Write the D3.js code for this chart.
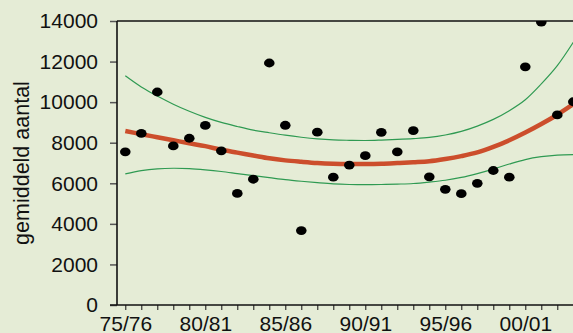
<!DOCTYPE html>
<html>
<head>
<meta charset="utf-8">
<script src="https://cdn.jsdelivr.net/npm/d3@7"></script>
<style>
  html, body { margin: 0; padding: 0; background: #e5ecd6; overflow: hidden; }
  svg { display: block; }
  text { font-family: "Liberation Sans", Arial, sans-serif; fill: #111; }
</style>
</head>
<body>
<svg id="chart" width="573" height="333"></svg>
<script>
// Winter seasons 1975/76 .. 2003/04
const seasons = ["75/76","76/77","77/78","78/79","79/80","80/81","81/82","82/83","83/84","84/85",
  "85/86","86/87","87/88","88/89","89/90","90/91","91/92","92/93","93/94","94/95",
  "95/96","96/97","97/98","98/99","99/00","00/01","01/02","02/03","03/04"];

// Mean count per season
const counts = [7550, 8460, 10500, 7840, 8220, 8850, 7600, 5500, 6200, 11930,
  8860, 3670, 8520, 6300, 6900, 7360, 8510, 7550, 8600, 6320,
  5700, 5490, 6000, 6630, 6300, 11740, 13950, 9370, 10020];

// Smoothed trend and its lower / upper confidence band
const trend = [8580, 8420, 8270, 8120, 7970, 7830, 7650, 7510, 7370, 7230,
  7130, 7060, 7000, 6965, 6950, 6950, 6965, 7000, 7040, 7090,
  7200, 7340, 7520, 7790, 8120, 8500, 8920, 9380, 9900];
const upper = [11300, 10750, 10300, 9900, 9550, 9250, 9000, 8800, 8620, 8490,
  8370, 8270, 8190, 8140, 8120, 8110, 8130, 8160, 8200, 8260,
  8380, 8560, 8820, 9150, 9580, 10120, 10900, 11800, 12950];
const lower = [6460, 6620, 6710, 6740, 6720, 6660, 6580, 6480, 6380, 6280,
  6180, 6100, 6030, 5970, 5940, 5930, 5940, 5960, 5990, 6060,
  6150, 6290, 6480, 6700, 6950, 7170, 7310, 7390, 7410];

const yTicks = [0, 2000, 4000, 6000, 8000, 10000, 12000, 14000];
const xLabels = ["75/76","80/81","85/86","90/91","95/96","00/01"];

const W = 573, H = 333;
const plotLeft = 117, plotTop = 21, plotBottom = 305;

const svg = d3.select("#chart");
svg.append("rect").attr("width", W).attr("height", H).attr("fill", "#e5ecd6");

const x = d3.scalePoint().domain(seasons).range([125.3, 573.3]);
const y = d3.scaleLinear().domain([0, 14000]).range([plotBottom, plotTop]);

svg.append("defs").append("clipPath").attr("id", "plot")
  .append("rect").attr("x", plotLeft).attr("y", plotTop)
  .attr("width", W - plotLeft + 20).attr("height", plotBottom - plotTop + 20);

// y axis
const yAxis = svg.append("g").attr("transform", `translate(${plotLeft},0)`)
  .call(d3.axisLeft(y).tickValues(yTicks).tickSize(7).tickPadding(12).tickFormat(d3.format("d")));
yAxis.select(".domain").remove();
yAxis.selectAll(".tick line").attr("stroke", "#555").attr("stroke-width", 1.5);
yAxis.selectAll(".tick text").attr("font-size", 21)
  .style("font-family", "Liberation Sans, Arial, sans-serif").attr("fill", "#111");

// x axis
const xAxis = svg.append("g").attr("transform", `translate(0,${plotBottom})`)
  .call(d3.axisBottom(x).tickSize(5).tickPadding(6)
    .tickFormat(d => xLabels.includes(d) ? d : ""));
xAxis.select(".domain").remove();
xAxis.selectAll(".tick line").attr("stroke", "#111").attr("stroke-width", 1);
xAxis.selectAll(".tick text").attr("font-size", 21)
  .style("font-family", "Liberation Sans, Arial, sans-serif").attr("fill", "#111");

// frame: left axis, bottom axis, top border
svg.append("line").attr("x1", plotLeft).attr("x2", plotLeft).attr("y1", plotTop).attr("y2", plotBottom)
  .attr("stroke", "#111").attr("stroke-width", 1.6);
svg.append("line").attr("x1", plotLeft - 7).attr("x2", W).attr("y1", plotBottom).attr("y2", plotBottom)
  .attr("stroke", "#111").attr("stroke-width", 1.6);
svg.append("line").attr("x1", plotLeft).attr("x2", W).attr("y1", plotTop).attr("y2", plotTop)
  .attr("stroke", "#111").attr("stroke-width", 1.4);

const plot = svg.append("g").attr("clip-path", "url(#plot)");

const lineOf = arr => d3.line()
  .x((d, i) => x(seasons[i]))
  .y(d => y(d))
  .curve(d3.curveCatmullRom.alpha(0.5))(arr);

plot.append("path").attr("d", lineOf(upper)).attr("fill", "none")
  .attr("stroke", "#2f9a52").attr("stroke-width", 1.2);
plot.append("path").attr("d", lineOf(lower)).attr("fill", "none")
  .attr("stroke", "#2f9a52").attr("stroke-width", 1.2);
plot.append("path").attr("d", lineOf(trend)).attr("fill", "none")
  .attr("stroke", "#cc4e2c").attr("stroke-width", 4.5).attr("stroke-linecap", "butt");

plot.selectAll("ellipse.pt").data(counts).join("ellipse")
  .attr("class", "pt")
  .attr("cx", (d, i) => x(seasons[i]))
  .attr("cy", d => y(d))
  .attr("rx", 5.3).attr("ry", 4.4)
  .attr("fill", "#000");

// y axis title
svg.append("text")
  .attr("transform", "translate(29,163) rotate(-90)")
  .attr("text-anchor", "middle")
  .attr("font-size", 21.5)
  .text("gemiddeld aantal");
</script>
</body>
</html>
